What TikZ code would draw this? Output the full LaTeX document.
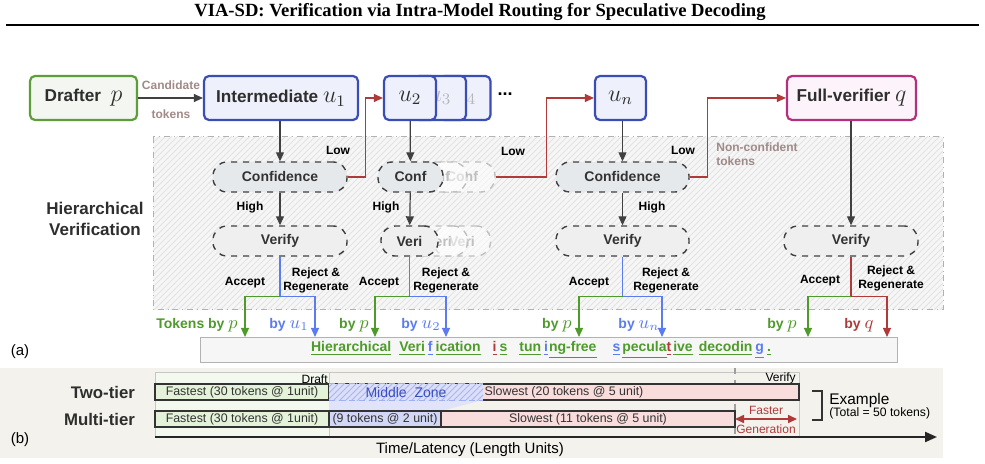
\documentclass[tikz,border=0pt]{standalone}
\usepackage{fontspec}
\setmainfont{Liberation Sans}
\newfontfamily\titlefont{Liberation Serif}
\usepackage{xcolor}
\usepackage{tikz}
\usetikzlibrary{arrows.meta, positioning, patterns, calc}

\definecolor{dgreen}{HTML}{4E9A2A}
\definecolor{lblue}{HTML}{5B7CF0}
\definecolor{dred}{HTML}{B03A3A}
\definecolor{tanlab}{HTML}{A08A88}
\definecolor{intblue}{HTML}{3A4DB5}
\definecolor{intfill}{HTML}{EEF0FC}
\definecolor{vermag}{HTML}{B5307C}
\definecolor{verfill}{HTML}{FCF4FA}
\definecolor{drgreen}{HTML}{5E9E3A}
\definecolor{drfill}{HTML}{F3F6F1}
\definecolor{conffill}{HTML}{E6E9EC}
\definecolor{veriffill}{HTML}{EFEFEF}
\definecolor{bandbg}{HTML}{F3F2EC}
\definecolor{fastgreen}{HTML}{E3F2D9}
\definecolor{slowpink}{HTML}{F9DCDC}
\definecolor{midblue}{HTML}{D3D7F6}
\definecolor{mztext}{HTML}{3A4FC0}

\newcommand{\tk}[2]{\textcolor{#1}{\underline{#2}}}
% bigger math for model names
\newcommand{\mv}[1]{{\fontsize{11.5}{12}\selectfont$#1$}}
\newcommand{\mb}[1]{{\fontsize{8.8}{10}\selectfont$#1$}}

\begin{document}
\begin{tikzpicture}[
  x=0.5pt, y=-0.5pt,
  model/.style={draw, rounded corners=2.5pt, line width=1.1pt, minimum height=22pt, inner sep=1pt, text=black!82, font=\fontsize{8.6}{10}\selectfont\bfseries},
  ghostmod/.style={model, draw=intblue, fill=intfill, text=black!28},
  gate/.style={draw=black!75, dashed, rounded corners=7pt, line width=0.7pt, minimum height=15pt, inner sep=1pt, fill=conffill, text=black!80, font=\fontsize{7}{8}\selectfont\bfseries},
  ghostgate/.style={gate, draw=black!25, fill=white, fill opacity=0.5, text opacity=1, text=black!25},
  lab/.style={font=\fontsize{6}{7}\selectfont\bfseries, align=center, inner sep=0.5pt},
  bylab/.style={font=\fontsize{7}{8}\selectfont\bfseries, inner sep=0.5pt},
  arr/.style={draw=black!75, line width=0.6pt, -{Triangle[length=4.5pt, width=4pt]}},
  low/.style={arr, draw=dred},
  bar/.style={draw=black!80, line width=0.8pt, minimum height=8pt, inner sep=0pt, text=black!80, font=\fontsize{6.2}{7}\selectfont},
  small/.style={font=\fontsize{6}{7}\selectfont, inner sep=0.5pt}
]
  \useasboundingbox (0,0) rectangle (985,464);

  % page head
  \node[font=\titlefont\fontsize{9.3}{11}\selectfont\bfseries] (title) at (480,12)
    {VIA-SD: Verification via Intra-Model Routing for Speculative Decoding};
  \draw[line width=0.9pt] (6,25) -- (979,25);

  % hatched verification area
  \fill[gray!7] (153,137) rectangle (943,310);
  \fill[pattern=north east lines, pattern color=gray!22] (153,137) rectangle (943,310);
  \draw[gray!60, dash dot, line width=0.5pt] (153,137) rectangle (943,310);
  \node[font=\fontsize{8.5}{10.5}\selectfont\bfseries, align=center, text=black!82] (hv) at (95,219) {Hierarchical\\Verification};

  % models
  \node[model, draw=drgreen, fill=drfill, minimum width=53.5pt] (drafter) at (83.5,98) {Drafter\ \ \mv{p}};
  \node[model, draw=intblue, fill=intfill, minimum width=77pt] (int) at (281,98) {Intermediate \mv{u_1}};
  \node[ghostmod, minimum width=25.5pt] (u4) at (465,98) {\mv{u_4}};
  \node[ghostmod, minimum width=26pt] (u3) at (440,98) {\mv{u_3}};
  \node[model, draw=intblue, fill=intfill, minimum width=26pt] (u2) at (410,98) {\mv{u_2}};
  \node[font=\fontsize{9}{10}\selectfont\bfseries] (dots) at (505,94) {...};
  \node[model, draw=intblue, fill=intfill, minimum width=25.5pt] (un) at (620.5,98) {\mv{u_n}};
  \node[model, draw=vermag, fill=verfill, minimum width=64.5pt] (fv) at (851.5,98) {Full-verifier \mv{q}};

  \draw[arr] (drafter) -- (int);
  \node[lab, text=tanlab] (cand) at (171,85) {Candidate};
  \node[lab, text=tanlab] (candtok) at (171,114) {tokens};

  % confidence gates
  \node[ghostgate, minimum width=33pt] (c2b) at (462,177) {Conf};
  \node[ghostgate, minimum width=33pt] (c2a) at (434,177) {Conf};
  \node[gate, minimum width=67pt] (c1) at (280,177) {Confidence};
  \node[gate, minimum width=32.5pt] (c2) at (410.5,177) {Conf};
  \node[gate, minimum width=66.5pt] (cn) at (622.5,177) {Confidence};

  % verify gates
  \node[ghostgate, minimum width=28.5pt] (v2b) at (462,241) {Veri};
  \node[ghostgate, minimum width=28.5pt] (v2a) at (439,241) {Veri};
  \node[gate, fill=veriffill, minimum width=67pt] (v1) at (280,241) {Verify};
  \node[gate, fill=veriffill, minimum width=28.5pt] (v2) at (409.5,241) {Veri};
  \node[gate, fill=veriffill, minimum width=66.5pt] (vn) at (622.5,241) {Verify};
  \node[gate, fill=veriffill, minimum width=67pt] (vq) at (851,241) {Verify};

  % routing
  \draw[arr] (int.south -| c1) -- (c1);
  \draw[arr] (u2) -- (c2);
  \draw[arr] (un.south -| cn) -- (cn);
  \draw[arr] (fv.south -| vq) -- (vq);
  \draw[arr] (c1) -- (v1);
  \draw[arr] (c2) -- (v2);
  \draw[arr] (cn) -- (vn);
  \node[lab] (hi1) at (250,207) {High};
  \node[lab] (hi2) at (386,207) {High};
  \node[lab] (hin) at (652,207) {High};

  \draw[low] (c1.east) -- ++(18,0) |- (u2.west);
  \draw[low] (c2b.east) -- ++(51,0) |- (un.west);
  \draw[low] (cn.east) -- ++(18,0) |- (fv.west);
  \node[lab] (lo1) at (338,150) {Low};
  \node[lab] (lo2) at (513,151) {Low};
  \node[lab] (lon) at (683,150) {Low};
  \node[lab, text=tanlab, anchor=north west, align=left] (nct) at (715,141) {Non-confident\\tokens};

  % output sentence
  \node[draw=gray!60, fill=gray!7, minimum width=348.5pt, minimum height=12.5pt] (sent) at (548.5,349.5) {};
  \node[font=\fontsize{7}{8}\selectfont\bfseries, inner sep=0pt] (stext) at (541,350)
    {\tk{dgreen}{Hierarchical}\hspace{4pt}\tk{dgreen}{Veri}\hspace{1.5pt}\tk{lblue}{f}\hspace{1.5pt}\tk{dgreen}{ication}\hspace{6pt}\tk{dred}{i}\hspace{1.5pt}\tk{dgreen}{s}\hspace{6pt}\tk{dgreen}{tun}\hspace{1.5pt}\tk{lblue}{i}\hspace{0.5pt}\tk{dgreen}{ng-free}\hspace{8pt}\tk{lblue}{s}\hspace{1pt}\tk{dgreen}{pecula}\tk{dred}{t}\hspace{1pt}\tk{dgreen}{ive}\hspace{3pt}\tk{dgreen}{decodin}\hspace{1.5pt}\tk{lblue}{g}\hspace{1.5pt}\tk{dgreen}{.}};

  \coordinate (a1) at (245,337);
  \coordinate (r1) at (315,337);
  \coordinate (a2) at (375,337);
  \coordinate (r2) at (446,337);
  \coordinate (an) at (579,337);
  \coordinate (rn) at (662,337);
  \coordinate (aq) at (808,337);
  \coordinate (rq) at (887,337);

  \draw[line width=0.6pt, draw=lblue] (v1.south) -- ++(0,40) coordinate (s1);
  \draw[arr, draw=dgreen] (s1) -| (a1);
  \draw[arr, draw=lblue] (s1) -| (r1);
  \draw[line width=0.6pt, draw=lblue] (v2.south) -- ++(0,40) coordinate (s2);
  \draw[arr, draw=dgreen] (s2) -| (a2);
  \draw[arr, draw=lblue] (s2) -| (r2);
  \draw[line width=0.6pt, draw=lblue] (vn.south) -- ++(0,40) coordinate (sn);
  \draw[arr, draw=dgreen] (sn) -| (an);
  \draw[arr, draw=lblue] (sn) -| (rn);
  \draw[line width=0.6pt, draw=dred] (vq.south) -- ++(0,40) coordinate (sq);
  \draw[arr, draw=dgreen] (sq) -| (aq);
  \draw[arr, draw=dred] (sq) -| (rq);

  \node[lab] (ac1) at (245,283) {Accept};
  \node[lab] (rj1) at (316,280) {Reject \&\\Regenerate};
  \node[lab] (ac2) at (379,283) {Accept};
  \node[lab] (rj2) at (446,280) {Reject \&\\Regenerate};
  \node[lab] (acn) at (589,283) {Accept};
  \node[lab] (rjn) at (666,280) {Reject \&\\Regenerate};
  \node[lab] (acq) at (820,281) {Accept};
  \node[lab] (rjq) at (891,278) {Reject \&\\Regenerate};

  \node[bylab, text=dgreen] (b1p) at (197,325) {Tokens by \mb{p}};
  \node[bylab, text=lblue] (b1u) at (289,325) {by \mb{u_1}};
  \node[bylab, text=dgreen] (b2p) at (354,325) {by \mb{p}};
  \node[bylab, text=lblue] (b2u) at (421,325) {by \mb{u_2}};
  \node[bylab, text=dgreen] (bnp) at (557,325) {by \mb{p}};
  \node[bylab, text=lblue] (bnu) at (639,325) {by \mb{u_n}};
  \node[bylab, text=dgreen] (bqp) at (782,325) {by \mb{p}};
  \node[bylab, text=dred] (bqq) at (859,325) {by \mb{q}};

  \node[font=\fontsize{7.5}{9}\selectfont] (pa) at (20,352) {(a)};

  % (b) latency comparison
  \fill[bandbg] (0,368) rectangle (943,458);
  \fill[fastgreen!45] (155,373) rectangle (329,437);
  \draw[gray!45, line width=0.5pt] (155,373) rectangle (799,437);
  \draw[gray!45, line width=0.5pt] (329,373) -- (329,437);
  \fill[midblue!70] (329,400) -- (483,400) -- (441,411) -- (329,411) -- cycle;
  \draw[gray!75, dashed, line width=0.7pt] (735,368) -- (735,437);
  \node[small, anchor=south east] (draft) at (329,385) {Draft};
  \node[small, anchor=south east] (verify) at (797,385) {Verify};

  \node[font=\fontsize{8.4}{10}\selectfont\bfseries, anchor=east, text=black!82] (two) at (142,392) {Two-tier};
  \node[font=\fontsize{8.4}{10}\selectfont\bfseries, anchor=east, text=black!82] (multi) at (142,419) {Multi-tier};

  \node[bar, fill=fastgreen, minimum width=87pt] (f1) at (242,392) {Fastest (30 tokens @ 1unit)};
  \node[bar, fill=slowpink, minimum width=235pt] (s1b) at (564,392) {Slowest (20 tokens @ 5 unit)};
  \fill[midblue!80] (329,384) rectangle (483,401);
  \fill[pattern=north east lines, pattern color=lblue!55] (329,384) rectangle (483,401);
  \draw[lblue!60, densely dashed, line width=0.5pt] (329,384) -- (483,384) (329,401) -- (483,401);
  \node[font=\fontsize{7}{8}\selectfont, text=mztext, inner sep=0.5pt] (mz) at (406,392) {Middle\ \ Zone};

  \node[bar, fill=fastgreen, minimum width=87pt] (f2) at (242,419) {Fastest (30 tokens @ 1unit)};
  \node[bar, fill=slowpink, minimum width=147pt] (s2b) at (588,419) {Slowest (11 tokens @ 5 unit)};
  \node[bar, fill=midblue, minimum width=56pt] (m2) at (385,419) {(9 tokens @ 2 unit)};

  \coordinate (fa) at (735,419);
  \coordinate (fb) at (797,419);
  \draw[dred, line width=0.8pt, {Triangle[length=4.5pt,width=4pt]}-{Triangle[length=4.5pt,width=4pt]}] (fa) -- (fb);
  \node[small, text=dred] (fast) at (766,410) {Faster};
  \node[small, text=dred] (gen) at (766,429) {Generation};

  \draw[black!80, line width=0.8pt] (812,391) -- (822,391) -- (822,420) -- (812,420);
  \node[font=\fontsize{7.7}{9}\selectfont, anchor=west, inner sep=0pt] (ex) at (829,401) {Example};
  \node[font=\fontsize{6.1}{7}\selectfont, anchor=west, inner sep=0pt] (tot) at (829,413) {(Total = 50 tokens)};

  \coordinate (t0) at (155,437);
  \coordinate (t1) at (937,437);
  \draw[black!85, line width=1.1pt, -{Triangle[length=6pt,width=5pt]}] (t0) -- (t1);
  \node[font=\fontsize{7.5}{9}\selectfont] (tl) at (470,450) {Time/Latency (Length Units)};
  \node[font=\fontsize{7.5}{9}\selectfont] (pb) at (20,440) {(b)};
\end{tikzpicture}
\end{document}
